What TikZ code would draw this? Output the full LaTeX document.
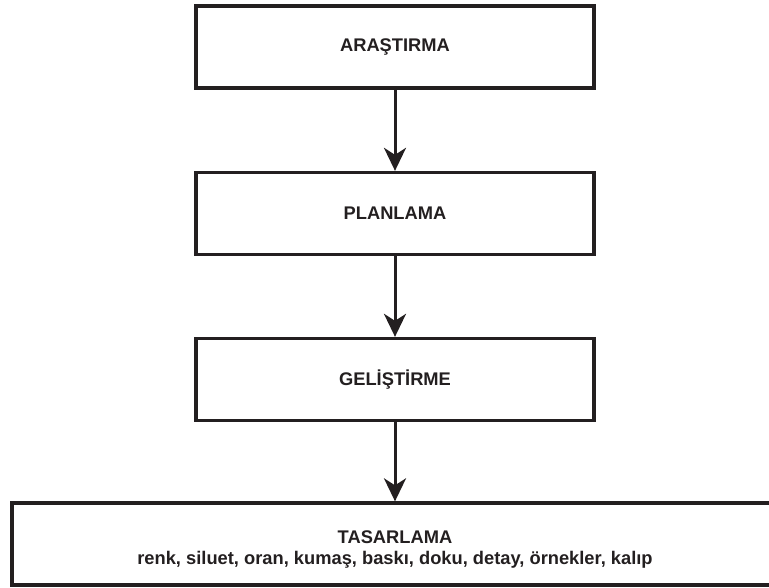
\documentclass[tikz,border=0pt]{standalone}
\usepackage{fontspec}
\setmainfont{Liberation Sans}
\usetikzlibrary{arrows.meta}
\definecolor{ink}{HTML}{231F20}
\begin{document}
\begin{tikzpicture}[x=1pt,y=-1pt,
  labeltext/.style={font=\fontsize{18.3}{21}\selectfont\bfseries, text=ink},
  stagebox/.style={draw=ink, line width=3.3pt, minimum width=398pt, minimum height=82pt, inner sep=0pt, labeltext},
  flow/.style={draw=ink, line width=3pt, -{Stealth[length=23pt,width=22pt,inset=7pt]}}]
\useasboundingbox (0,0) rectangle (769,588);
\node[stagebox] (a) at (395,47) {ARAŞTIRMA};
\node[stagebox] (b) at (395,213.5) {PLANLAMA};
\node[stagebox] (c) at (395,379.5) {GELİŞTİRME};
\node[stagebox, minimum width=766pt] (d) at (395,544) {};
\node[labeltext, align=center, inner sep=0pt] (dt) at ([yshift=-6pt]d.center) {TASARLAMA\\renk, siluet, oran, kumaş, baskı, doku, detay, örnekler, kalıp};
\draw[flow] (a.south) -- (b.north);
\draw[flow] (b.south) -- (c.north);
\draw[flow] (c.south) -- (d.north);
\end{tikzpicture}
\end{document}
